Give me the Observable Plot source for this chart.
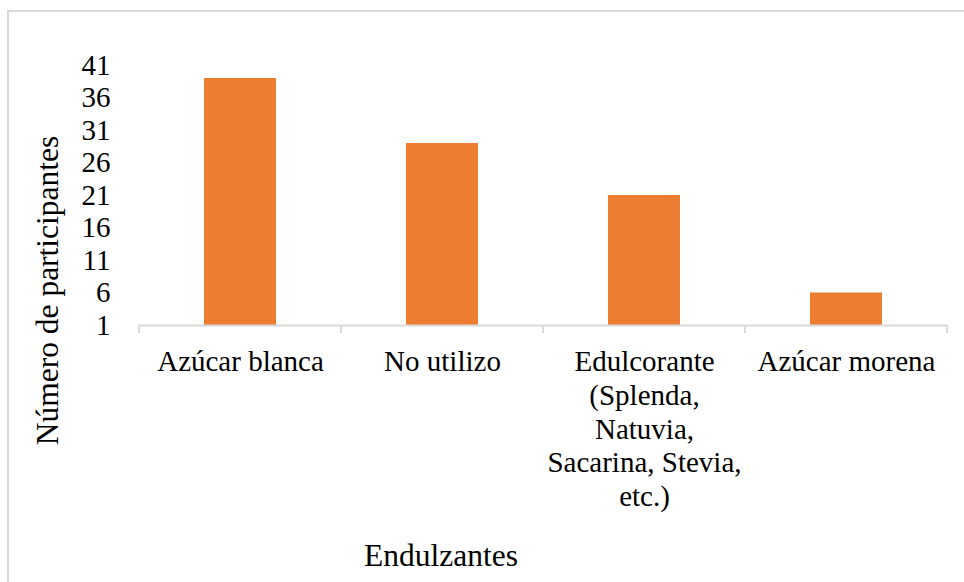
<!DOCTYPE html>
<html><head><meta charset="utf-8">
<script src="https://cdn.jsdelivr.net/npm/d3@7"></script>
<script src="https://cdn.jsdelivr.net/npm/@observablehq/plot@0.6"></script>
<style>
body{margin:0;background:#fff}
#wrap{position:relative;width:964px;height:582px;overflow:hidden;background:#fff}
#border{position:absolute;left:7px;top:10px;width:2000px;height:2000px;border:2px solid #d9d9d9;box-sizing:border-box}
#wrap svg{position:absolute;left:0;top:0}
</style></head><body><div id="wrap"><div id="border"></div></div>
<script>
const categories = ["Azúcar blanca", "No utilizo", "Edulcorante (Splenda, Natuvia, Sacarina, Stevia, etc.)", "Azúcar morena"];
const values = [39, 29, 21, 6];
const tickLabels = ["Azúcar blanca", "No utilizo", "Edulcorante\n(Splenda,\nNatuvia,\nSacarina, Stevia,\netc.)", "Azúcar morena"];
const yTicks = [1, 6, 11, 16, 21, 26, 31, 36, 41];
const xTitle = "Endulzantes";
const yTitle = "Número de participantes";

const data = categories.map((c, i) => ({cat: c, value: values[i]}));

const plot = Plot.plot({
  width: 964, height: 582,
  marginLeft: 138, marginRight: 17, marginTop: 65, marginBottom: 257,
  style: {fontFamily: "'Liberation Serif', 'Times New Roman', serif", background: "transparent", color: "#000"},
  x: {domain: categories, paddingInner: 0.645, paddingOuter: 0.3225, label: null},
  y: {domain: [1, 41], ticks: yTicks, label: null},
  marks: [
    Plot.barY(data, {x: "cat", y1: 1, y2: "value", fill: "#ED7D31"}),
    Plot.ruleY([1], {stroke: "#d9d9d9", strokeWidth: 2}),
    Plot.axisY({ticks: yTicks, tickSize: 0, tickPadding: 28, fontSize: 29, fill: "#000", label: null}),
    Plot.axisX({tickSize: 0, tickPadding: 22, fontSize: 29, lineHeight: 1.16, fill: "#000", label: null,
      tickFormat: d => tickLabels[categories.indexOf(d)]}),
    Plot.text([xTitle], {frameAnchor: "bottom", textAnchor: "middle", lineAnchor: "middle", text: d => d,
      dx: -102, dy: 230, fontSize: 31.5, fill: "#000"}),
    Plot.text([yTitle], {frameAnchor: "left", textAnchor: "middle", lineAnchor: "middle", text: d => d,
      rotate: -90, dx: -91, dy: 95, fontSize: 31.5, fill: "#000"})
  ]
});

const xs = plot.scale("x"), ys = plot.scale("y");
const y0 = ys.apply(1);
const gap = (xs.step - xs.bandwidth) / 2;
const bounds = categories.map(c => xs.apply(c) - gap)
  .concat([xs.apply(categories[categories.length - 1]) + xs.bandwidth + gap]);
d3.select(plot).append("g").selectAll("line").data(bounds).join("line")
  .attr("x1", d => d).attr("x2", d => d).attr("y1", y0).attr("y2", y0 + 8)
  .attr("stroke", "#d9d9d9").attr("stroke-width", 2);

document.getElementById("wrap").appendChild(plot);
</script>
</body></html>
